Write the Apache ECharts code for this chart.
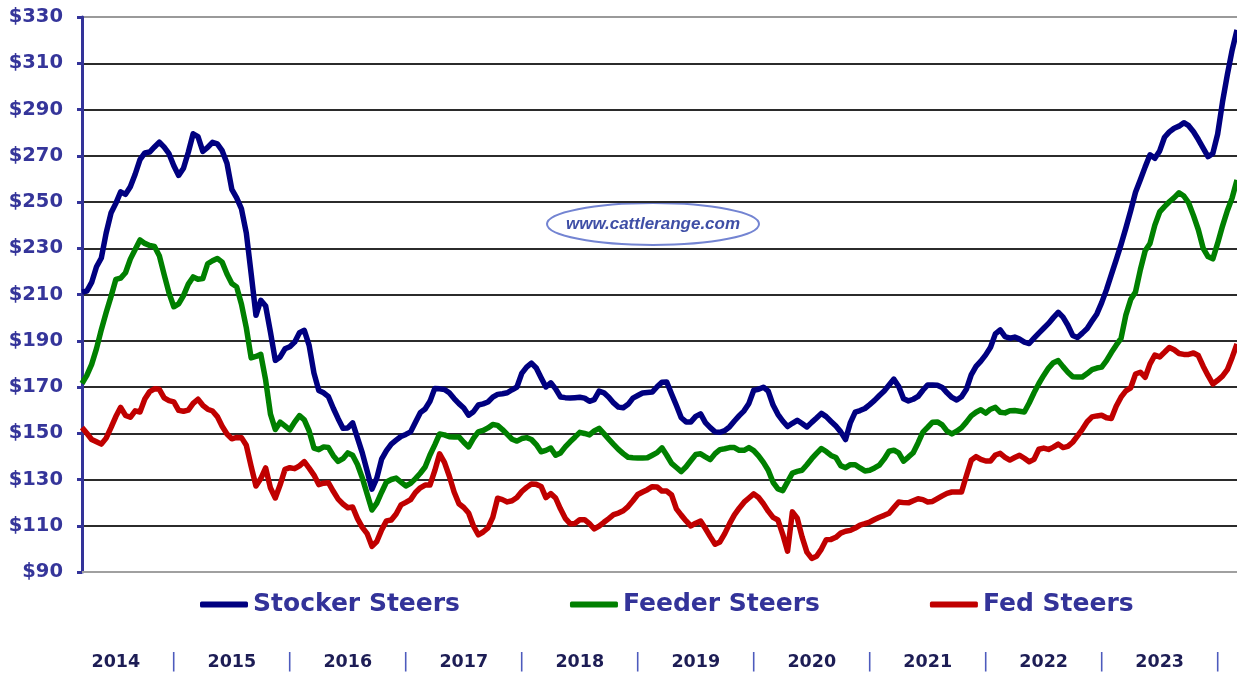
<!DOCTYPE html>
<html>
<head>
<meta charset="utf-8">
<title>Stocker, Feeder and Fed Steers</title>
<script src="https://cdn.jsdelivr.net/npm/echarts@6/dist/echarts.min.js"></script>
<style>
  html, body { margin: 0; padding: 0; background: #fff; }
  #chart { width: 1237px; height: 677px; }
</style>
</head>
<body>
<div id="chart"></div>
<script>
// half-monthly points, mid-March 2014 .. March 2024
const dates = [];
for (let j = 0; j < 240; j++) {
  const h = j + 5;
  const year = 2014 + Math.floor(h / 24);
  const month = Math.floor((h % 24) / 2) + 1;
  dates.push(year + "-" + String(month).padStart(2, "0") + "-" + (h % 2 ? "16" : "01"));
}

const yTicks = [90, 110, 130, 150, 170, 190, 210, 230, 250, 270, 290, 310, 330];

const stocker = [
  211, 211.5, 215.2, 222, 225.8, 236.6, 245.2, 249.4, 254.4, 253.3,
  256.6, 262, 268.3, 271.2, 271.6, 273.8, 275.9, 273.7, 270.9, 265.7,
  261.5, 264.6, 271.5, 279.5, 278.3, 271.9, 273.6, 275.8, 275.1, 272.2,
  266.8, 255.5, 251.8, 247, 236.6, 219, 201, 207.5, 205, 193.7,
  181.5, 183, 186.5, 187.4, 189.4, 193.5, 194.5, 188, 176, 168.5,
  167.5, 165.8, 160.8, 156.3, 152.2, 152.3, 154.5, 148, 141.5, 133.7,
  125.8, 130.6, 138.8, 142.5, 145.3, 147, 148.6, 149.5, 150.6, 154.8,
  158.9, 160.5, 163.8, 169.4, 169.2, 168.9, 167.5, 165, 162.8, 160.9,
  157.8, 159.3, 162.2, 162.7, 163.5, 165.6, 166.8, 167.1, 167.5, 168.8,
  170, 175.9, 178.6, 180.3, 178.2, 174, 170, 171.8, 169.2, 165.7,
  165.4, 165.2, 165.4, 165.6, 165.2, 163.8, 164.5, 168.2, 167.5, 165.6,
  163.1, 161.3, 161, 162.5, 165.2, 166.3, 167.4, 167.6, 167.8, 170.1,
  172.1, 172.2, 167, 162, 156.7, 154.9, 154.9, 157.3, 158.4, 154.6,
  152.4, 150.6, 150.4, 151.1, 152.8, 155.3, 157.6, 159.7, 162.9, 168.6,
  169, 169.9, 168.2, 162.2, 158.2, 155.3, 152.9, 154.3, 155.6, 154.2,
  152.7, 154.7, 156.6, 158.6, 157.2, 155.1, 153.1, 150.6, 147.3, 154.6,
  159.1, 159.8, 160.7, 162.4, 164.2, 166.3, 168.3, 170.9, 173.4, 170.2,
  164.9, 164, 164.7, 165.9, 168.6, 170.9, 170.9, 170.8, 169.8, 167.5,
  165.5, 164.4, 165.8, 169, 175.2, 178.9, 181.2, 183.9, 187.2, 193,
  194.7, 191.8, 191.1, 191.6, 190.7, 189.4, 188.8, 191.1, 193.3, 195.4,
  197.5, 200, 202.3, 200.2, 196.7, 192.3, 191.4, 193.3, 195.3, 198.5,
  201.6, 206.5, 212.1, 218.6, 225, 231.6, 238.7, 246.2, 254.2, 259.6,
  265.2, 270.4, 268.9, 272.1, 278, 280.3, 281.9, 282.8, 284.3, 283,
  280.4, 277, 273.3, 269.6, 271, 279.4, 293.2, 305, 315.7, 324.4
];

const feeder = [
  171.5, 175, 179.8, 186.6, 194.8, 202.2, 209.1, 216.5, 217.1, 219.4,
  225.3, 229.5, 233.6, 232.1, 231.2, 230.8, 226.8, 218.6, 210.7, 204.7,
  205.9, 209.5, 214.5, 217.6, 216.6, 216.9, 223.3, 224.6, 225.6, 224,
  218.9, 214.8, 213.3, 205.8, 195.6, 182.6, 183.2, 184.1, 173, 158.3,
  151.6, 154.8, 153.2, 151.5, 154.8, 157.6, 155.8, 151, 143.6, 142.9,
  144.1, 143.8, 140.3, 137.8, 139, 141.5, 140.5, 136.5, 130.7, 123.7,
  116.8, 119.8, 124.5, 128.9, 130, 130.6, 128.9, 127.2, 128.3, 130.4,
  132.7, 135.4, 140.6, 145, 149.7, 149.3, 148.5, 148.4, 148.4, 146.1,
  144.1, 147.8, 150.6, 151.2, 152.3, 153.8, 153.4, 151.6, 149.5, 147.4,
  146.6, 147.7, 148.1, 147.3, 145.1, 142, 142.6, 143.6, 140.5, 141.5,
  144.1, 146.3, 148.3, 150.4, 149.9, 149.3, 151, 152.1, 149.8, 147.5,
  145.2, 143, 141.2, 139.6, 139.4, 139.3, 139.3, 139.4, 140.5, 141.6,
  143.7, 140.5, 137, 135.2, 133.4, 135.5, 138.2, 140.8, 141.1, 139.8,
  138.6, 141.2, 142.9, 143.3, 143.8, 143.8, 142.6, 142.6, 143.8, 142.5,
  140.2, 137.4, 134, 128.8, 125.9, 125.2, 129, 132.8, 133.5, 134,
  136.4, 139, 141.3, 143.4, 142.1, 140.4, 139.5, 136, 135.1, 136.4,
  136.4, 135, 133.7, 134, 135, 136.2, 138.9, 142.2, 142.7, 141.5,
  137.9, 139.7, 141.6, 145.8, 150.5, 152.6, 154.8, 154.9, 153.6, 150.9,
  149.7, 150.9, 152.4, 154.8, 157.5, 159.1, 160.2, 158.7, 160.4, 161.2,
  159.1, 158.8, 159.7, 159.8, 159.5, 159.2, 163.1, 167.5, 171.5, 175,
  178.2, 180.5, 181.4, 178.8, 176.4, 174.4, 174.3, 174.3, 175.8, 177.5,
  178.2, 178.6, 181.4, 184.9, 188.1, 191, 201.1, 207.8, 211.1, 220.7,
  228.9, 232.1, 240, 245.7, 248, 250.1, 251.9, 254, 252.6, 249.6,
  244.1, 238, 230, 226.4, 225.4, 232.2, 239.6, 246.2, 251.8, 259.5
];

const fed = [
  152.5, 150, 147.3, 146.3, 145.3, 147.9, 152.4, 157.2, 161.2, 157.7,
  156.9, 159.7, 159.2, 164.8, 168, 169.2, 169, 165.3, 164.1, 163.6,
  159.9, 159.5, 160, 162.9, 164.7, 162.1, 160.4, 159.6, 157.2, 153,
  149.7, 147.6, 148.2, 148.1, 144.8, 135.7, 127.2, 130.4, 135, 126.3,
  122, 127.7, 134.4, 135.1, 134.7, 135.9, 137.7, 134.9, 131.9, 127.8,
  128.4, 128.6, 124.9, 121.5, 119.4, 117.8, 118.1, 113.1, 109.3, 106.6,
  101.1, 103.2, 108.2, 112.1, 112.5, 115.1, 119, 120.1, 121.3, 124.4,
  126.4, 127.6, 127.6, 133.8, 141.1, 137.4, 131.5, 124.6, 119.5, 117.9,
  115.5, 109.9, 106.1, 107.3, 109.1, 113.6, 121.9, 121.3, 120.3, 120.8,
  122.2, 124.8, 126.6, 128.1, 127.9, 127, 122.2, 123.9, 122, 117.3,
  113.2, 110.9, 111, 112.6, 112.6, 110.9, 108.6, 109.8, 111.5, 113.1,
  114.8, 115.5, 116.5, 118.3, 120.8, 123.5, 124.6, 125.6, 126.9, 126.8,
  125, 125, 123.3, 117.3, 114.6, 112.1, 109.9, 111.1, 112, 108.8,
  105.3, 102, 103, 106.6, 110.9, 114.7, 117.6, 120.2, 122, 123.8,
  122.2, 119.5, 116.3, 113.6, 112.5, 106.3, 99, 116, 113.3, 105.2,
  98.6, 95.9, 96.8, 99.9, 104, 104.1, 105, 106.8, 107.6, 108,
  109, 110.3, 110.9, 111.6, 112.7, 113.7, 114.5, 115.4, 117.9, 120.3,
  120, 119.9, 120.8, 121.7, 121.3, 120.3, 120.5, 121.7, 122.9, 124,
  124.6, 124.6, 124.6, 131.6, 138.3, 139.9, 138.7, 138, 138, 140.6,
  141.3, 139.6, 138.4, 139.5, 140.5, 139.2, 137.7, 138.7, 143.1, 143.6,
  143, 144, 145.3, 143.8, 144.3, 146.1, 148.9, 151.7, 155, 157.1,
  157.5, 157.8, 156.7, 156.4, 161.7, 165.6, 168.3, 169.6, 175.6, 176.4,
  174.2, 180, 183.8, 183, 185, 187.1, 186.1, 184.5, 184.1, 184.1,
  184.7, 183.6, 179, 175, 171.3, 172.9, 174.7, 177.5, 182.8, 188.6
];

const chart = echarts.init(document.getElementById("chart"));

const gridColors = yTicks.map((v, i) => (i === yTicks.length - 1 ? "#9a9a9a" : "#2b2b2b"));

const option = {
  animation: false,
  backgroundColor: "#ffffff",
  grid: { left: 82, right: 0, top: 17, bottom: 105 },
  legend: {
    left: 200,
    top: 592,
    padding: 0,
    itemGap: 110,
    itemWidth: 48,
    itemHeight: 6,
    icon: "roundRect",
    textStyle: {
      fontFamily: "DejaVu Sans",
      fontWeight: "bold",
      fontSize: 25,
      color: "#333399"
    },
    data: ["Stocker Steers", "Feeder Steers", "Fed Steers"]
  },
  xAxis: {
    type: "category",
    data: dates,
    boundaryGap: false,
    axisLine: { lineStyle: { color: "#a0a0a0", width: 2 } },
    axisTick: { show: false },
    splitLine: { show: false },
    axisLabel: {
      margin: 81,
      interval: (i, v) => v.endsWith("-07-01") || v.endsWith("-01-01"),
      formatter: v => (v.endsWith("-07-01") ? "{y|" + v.slice(0, 4) + "}" : "{s||}"),
      rich: {
        y: { fontFamily: "DejaVu Sans", fontWeight: "bold", fontSize: 17.5, color: "#1d1d55" },
        s: { fontFamily: "DejaVu Sans", fontSize: 19, color: "#4d5bbd" }
      }
    }
  },
  yAxis: {
    type: "value",
    min: 90,
    max: 330,
    interval: 20,
    axisLine: { show: true, lineStyle: { color: "#333399", width: 3 } },
    axisTick: { show: true, length: 5, lineStyle: { color: "#333399", width: 3 } },
    splitLine: { lineStyle: { color: gridColors, width: 2 } },
    axisLabel: {
      margin: 19,
      formatter: v => "$" + v,
      fontFamily: "DejaVu Sans",
      fontWeight: "bold",
      fontSize: 19.5,
      color: "#35359a"
    }
  },
  graphic: [
    {
      type: "group",
      left: 546,
      top: 202,
      z: 5,
      children: [
        {
          type: "ellipse",
          shape: { cx: 107, cy: 22, rx: 106, ry: 21 },
          style: { fill: "#ffffff", stroke: "#7384d2", lineWidth: 2 }
        },
        {
          type: "text",
          x: 107,
          y: 22,
          style: {
            text: "www.cattlerange.com",
            font: 'italic bold 17px "Liberation Sans"',
            fill: "#3f4fa6",
            align: "center",
            verticalAlign: "middle",
            textAlign: "center",
            textVerticalAlign: "middle"
          }
        }
      ]
    }
  ],
  series: [
    {
      name: "Stocker Steers",
      type: "line",
      data: stocker,
      symbol: "none",
      color: "#000080",
      lineStyle: { width: 5.5, color: "#000080", join: "round" }
    },
    {
      name: "Feeder Steers",
      type: "line",
      data: feeder,
      symbol: "none",
      color: "#008000",
      lineStyle: { width: 5.5, color: "#008000", join: "round" }
    },
    {
      name: "Fed Steers",
      type: "line",
      data: fed,
      symbol: "none",
      color: "#c00000",
      lineStyle: { width: 5.5, color: "#c00000", join: "round" }
    }
  ]
};

chart.setOption(option);
</script>
</body>
</html>
